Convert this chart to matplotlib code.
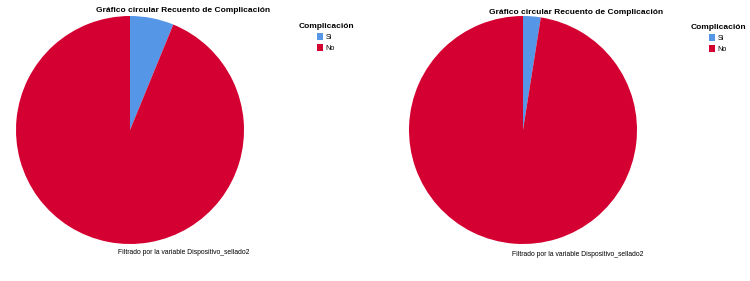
import matplotlib
matplotlib.use("Agg")
import matplotlib.pyplot as plt

plt.rcParams['font.family'] = ['Liberation Sans', 'DejaVu Sans']

categories = ["Si", "No"]
pie1_values = [6.2, 93.8]
pie2_values = [2.5, 97.5]
colors = ["#5596E6", "#D50032"]
title = "Gráfico circular Recuento de Complicación"
legend_title = "Complicación"
footnote = "Filtrado por la variable Dispositivo_sellado2"

W, H = 750, 281
fig = plt.figure(figsize=(W / 100, H / 100), dpi=100)
fig.patch.set_facecolor("white")


def add_pie(cx, cy, r, values, title_xy, leg_xy, foot_xy):
    ax = fig.add_axes([(cx - r) / W, (H - cy - r) / H, 2 * r / W, 2 * r / H])
    wedges, _ = ax.pie(values, colors=colors, startangle=90, counterclock=False,
                       radius=1, wedgeprops=dict(linewidth=0))
    ax.set_xlim(-1, 1)
    ax.set_ylim(-1, 1)
    ax.set_aspect("auto")
    ax.axis("off")
    fig.text(title_xy[0] / W, 1 - title_xy[1] / H, title, ha="center", va="center",
             fontsize=6.0, fontweight="bold")
    leg = fig.legend(wedges, categories, title=legend_title, loc="upper center",
                     bbox_to_anchor=(leg_xy[0] / W, 1 - leg_xy[1] / H), frameon=False,
                     fontsize=5.2, title_fontproperties={"weight": "bold", "size": 6.0},
                     handlelength=0.8, handleheight=1.0, handletextpad=0.3,
                     labelspacing=0.45, borderpad=0, borderaxespad=0)
    leg._legend_box.align = "center"
    fig.text(foot_xy[0] / W, 1 - foot_xy[1] / H, footnote, ha="left", va="center",
             fontsize=4.85)


add_pie(130, 130, 114, pie1_values, (183, 10), (326, 23), (118, 253))
add_pie(523, 130, 114, pie2_values, (576, 12), (718, 24), (512, 255))

fig.savefig("out.png", dpi=100)
